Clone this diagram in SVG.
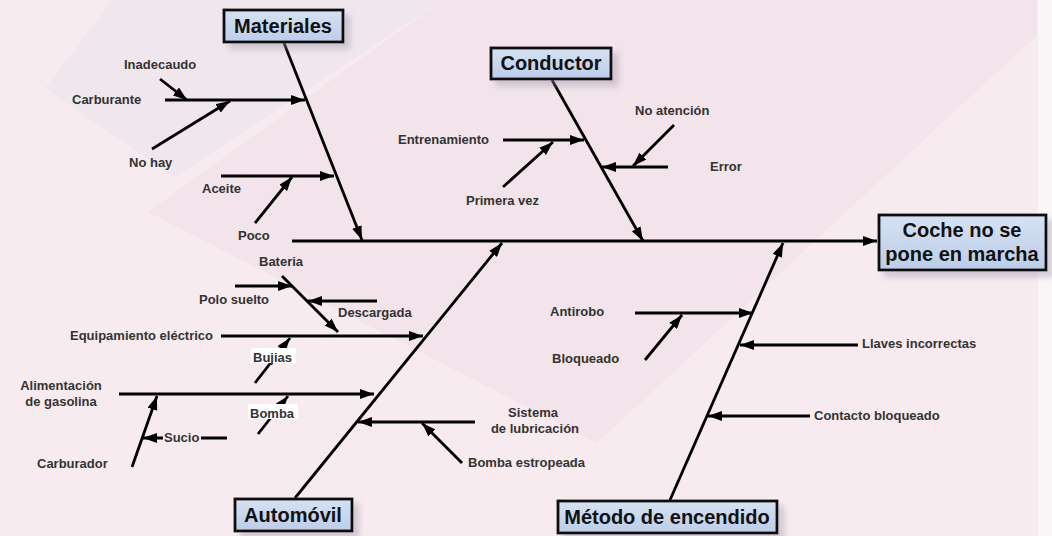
<svg xmlns="http://www.w3.org/2000/svg" width="1052" height="536" viewBox="0 0 1052 536">
  <defs>
    <marker id="head" viewBox="0 0 14 10" refX="14" refY="5" markerWidth="14" markerHeight="10" markerUnits="userSpaceOnUse" orient="auto">
      <path d="M0,0 L14,5 L0,10 Z" fill="#000"/>
    </marker>
    <linearGradient id="boxFill" x1="0" y1="0" x2="0" y2="1">
      <stop offset="0" stop-color="#d6e2f2"/>
      <stop offset="1" stop-color="#bccdea"/>
    </linearGradient>
    <filter id="shadow" x="-20%" y="-30%" width="150%" height="180%">
      <feDropShadow dx="6" dy="6" stdDeviation="3" flood-color="#9a8fa3" flood-opacity="0.4"/>
    </filter>
  </defs>
  <style>
    .bone { stroke: #000; stroke-width: 2.8; fill: none; marker-end: url(#head); }
    .lbl { font-family: "Liberation Sans", Arial, sans-serif; font-size: 13px; font-weight: bold; fill: #333; }
    .box { fill: url(#boxFill); stroke: #111; stroke-width: 2.8; filter: url(#shadow); }
    .ttl { font-family: "Liberation Sans", Arial, sans-serif; font-size: 20px; font-weight: bold; fill: #111; text-anchor: middle; }
    .mask { fill: #ffffff; }
  </style>

  <!-- background -->
  <rect width="1052" height="536" fill="#f8ebf0"/>
  <polygon points="148,212 443,0 1037,0 1037,35 597,443" fill="#f2e4ea"/>
  <polygon points="45,88 112,0 443,0 175,178" fill="#f0e7ee"/>
  <rect x="1038" y="0" width="14" height="536" fill="#faf6f8"/>

  <!-- connectors -->
  <g id="connectors">
    <!-- main spine -->
    <line class="bone" x1="292" y1="241" x2="877" y2="241"/>
    <!-- category bones -->
    <line class="bone" x1="284" y1="43" x2="362" y2="240"/>
    <line class="bone" x1="552" y1="80" x2="643" y2="241"/>
    <line class="bone" x1="295" y1="498" x2="502" y2="243"/>
    <line class="bone" x1="670" y1="500" x2="783" y2="243"/>

    <!-- Materiales -->
    <line class="bone" x1="165" y1="100" x2="305" y2="100"/>
    <line class="bone" x1="160" y1="79" x2="187" y2="100"/>
    <line class="bone" x1="152" y1="149" x2="230" y2="101"/>
    <line class="bone" x1="221" y1="176" x2="334" y2="176"/>
    <line class="bone" x1="255" y1="223" x2="292" y2="177"/>

    <!-- Conductor -->
    <line class="bone" x1="503" y1="140" x2="584" y2="140"/>
    <line class="bone" x1="503" y1="187" x2="553" y2="142"/>
    <line class="bone" x1="674" y1="125" x2="633" y2="166"/>
    <line class="bone" x1="668" y1="167" x2="602" y2="167"/>

    <!-- Automóvil -->
    <line class="bone" x1="282" y1="276" x2="338" y2="332"/>
    <line class="bone" x1="235" y1="286" x2="292" y2="286"/>
    <line class="bone" x1="377" y1="301" x2="308" y2="301"/>
    <line class="bone" x1="221" y1="336" x2="423" y2="336"/>
    <line class="bone" x1="255" y1="383" x2="290" y2="338"/>
    <line class="bone" x1="119" y1="394" x2="374" y2="394"/>
    <line class="bone" x1="258" y1="434" x2="288" y2="396"/>
    <line class="bone" x1="132" y1="467" x2="157" y2="396"/>
    <line class="bone" x1="227" y1="438" x2="143" y2="438"/>
    <line class="bone" x1="475" y1="422" x2="358" y2="422"/>
    <line class="bone" x1="462" y1="463" x2="422" y2="423"/>

    <!-- Método de encendido -->
    <line class="bone" x1="635" y1="313" x2="753" y2="313"/>
    <line class="bone" x1="645" y1="360" x2="682" y2="315"/>
    <line class="bone" x1="858" y1="345" x2="740" y2="345"/>
    <line class="bone" x1="810" y1="416" x2="708" y2="416"/>
  </g>

  <!-- effect -->
  <g id="effect">
    <rect class="box" x="879" y="215" width="167" height="55"/>
    <text class="ttl" x="962" y="237">Coche no se</text>
    <text class="ttl" x="962" y="261">pone en marcha</text>
  </g>

  <!-- category nodes -->
  <g id="materiales">
    <rect class="box" x="224" y="10" width="119" height="32"/>
    <text class="ttl" x="283" y="33">Materiales</text>
  </g>
  <g id="conductor">
    <rect class="box" x="491" y="48" width="120" height="31"/>
    <text class="ttl" x="551" y="70">Conductor</text>
  </g>
  <g id="automovil">
    <rect class="box" x="235" y="499" width="117" height="32"/>
    <text class="ttl" x="293" y="522">Automóvil</text>
  </g>
  <g id="metodo">
    <rect class="box" x="558" y="501" width="219" height="32"/>
    <text class="ttl" x="667" y="524">Método de encendido</text>
  </g>

  <!-- cause labels -->
  <g id="cause-materiales">
    <text class="lbl" x="72" y="104">Carburante</text>
    <text class="lbl" x="124" y="69">Inadecaudo</text>
    <text class="lbl" x="129" y="167">No hay</text>
    <text class="lbl" x="202" y="193">Aceite</text>
    <text class="lbl" x="238" y="240">Poco</text>
  </g>
  <g id="cause-conductor">
    <text class="lbl" x="398" y="144">Entrenamiento</text>
    <text class="lbl" x="466" y="205">Primera vez</text>
    <text class="lbl" x="635" y="115">No atención</text>
    <text class="lbl" x="710" y="171">Error</text>
  </g>
  <g id="cause-automovil">
    <text class="lbl" x="259" y="266">Bateria</text>
    <text class="lbl" x="199" y="304">Polo suelto</text>
    <text class="lbl" x="338" y="317">Descargada</text>
    <text class="lbl" x="70" y="340">Equipamiento eléctrico</text>
    <rect class="mask" x="251" y="348" width="45" height="15"/>
    <text class="lbl" x="253" y="362">Bujias</text>
    <text class="lbl" x="61" y="390" text-anchor="middle">Alimentación</text>
    <text class="lbl" x="61" y="406" text-anchor="middle">de gasolina</text>
    <rect class="mask" x="248" y="404" width="50" height="15"/>
    <text class="lbl" x="250" y="418">Bomba</text>
    <rect x="163" y="431" width="38" height="14" fill="#f8ebf0"/>
    <text class="lbl" x="164" y="442">Sucio</text>
    <text class="lbl" x="37" y="468">Carburador</text>
    <text class="lbl" x="533" y="417" text-anchor="middle">Sistema</text>
    <text class="lbl" x="535" y="433" text-anchor="middle">de lubricación</text>
    <text class="lbl" x="468" y="467">Bomba estropeada</text>
  </g>
  <g id="cause-metodo">
    <text class="lbl" x="550" y="316">Antirobo</text>
    <text class="lbl" x="552" y="363">Bloqueado</text>
    <text class="lbl" x="862" y="348">Llaves incorrectas</text>
    <text class="lbl" x="814" y="420">Contacto bloqueado</text>
  </g>
</svg>
